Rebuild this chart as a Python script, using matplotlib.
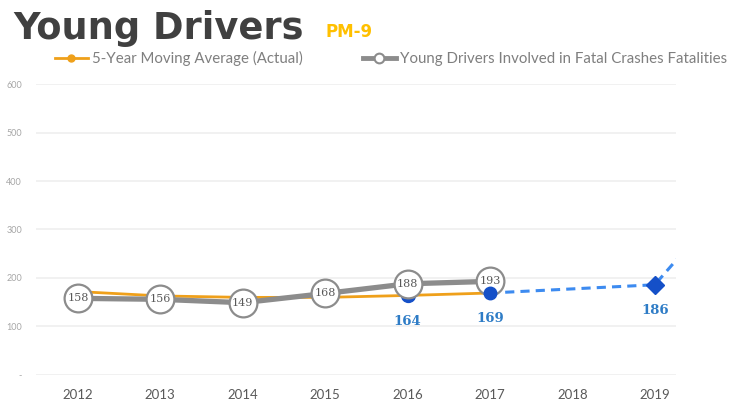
import matplotlib
matplotlib.use("Agg")
import matplotlib.pyplot as plt
from matplotlib.lines import Line2D

years = [2012, 2013, 2014, 2015, 2016, 2017, 2018, 2019]
avg_years = [2012, 2013, 2014, 2015, 2016, 2017]
avg_values = [172, 163, 160, 160, 164, 169]
fatal_years = [2012, 2013, 2014, 2015, 2016, 2017]
fatal_values = [158, 156, 149, 168, 188, 193]
proj_years = [2017, 2019, 2020]
proj_values = [169, 186, 381]
blue_dot_years = [2016, 2017]
blue_dot_values = [164, 169]
target_year = [2019]
target_value = [186]
yticks = [0, 100, 200, 300, 400, 500, 600]
ytick_labels = ["-", "100", "200", "300", "400", "500", "600"]

ORANGE = "#EFA01A"
GRAY = "#8C8C8C"
BLUE_LINE = "#3D8BF0"
BLUE_DOT = "#1550C8"
BLUE_TXT = "#2E7CC6"

fig = plt.figure(figsize=(7.31, 4.08), dpi=100)
ax = fig.add_axes([0.049, 0.081, 0.876, 0.713])
ax.set_xlim(2011.49, 2019.26)
ax.set_ylim(0, 600)

for s in ax.spines.values():
    s.set_visible(False)
ax.set_yticks(yticks)
ax.set_yticklabels(ytick_labels, fontsize=6.5, color="#A6A6A6", family="Lato")
ax.set_xticks(years)
ax.set_xticklabels([str(y) for y in years], fontsize=9.5, color="#595959", family="Lato")
ax.tick_params(axis="both", length=0)
ax.tick_params(axis="y", pad=10)
ax.tick_params(axis="x", pad=10)
ax.grid(axis="y", color="#EFEFEF", linewidth=1.2)
ax.set_axisbelow(True)

# projection
ax.plot(proj_years, proj_values, color=BLUE_LINE, lw=2.2, ls=(0, (3, 2)), zorder=2)
# orange moving average
ax.plot(avg_years, avg_values, color=ORANGE, lw=2.0, zorder=3)
# blue dot 2016 (under gray marker)
ax.plot(blue_dot_years[:1], blue_dot_values[:1], 'o', color=BLUE_DOT, ms=10, zorder=4)
# gray fatalities
ax.plot(fatal_years, fatal_values, color=GRAY, lw=3.8, marker='o', ms=20,
        mfc="white", mec=GRAY, mew=1.6, zorder=5)
for x, v in zip(fatal_years, fatal_values):
    ax.text(x, v, str(v), ha="center", va="center", fontsize=8, color="#595959",
            family="DejaVu Serif", zorder=6)
# blue dot 2017 over
ax.plot(blue_dot_years[1:], blue_dot_values[1:], 'o', color=BLUE_DOT, ms=9, zorder=7)
ax.plot(target_year, target_value, 'D', color=BLUE_DOT, ms=9, zorder=7)

for x, v in zip(blue_dot_years + target_year, blue_dot_values + target_value):
    ax.annotate(str(v), (x, v), xytext=(0, -14), textcoords="offset points",
                ha="center", va="top", fontsize=9.5, fontweight="bold",
                color=BLUE_TXT, family="DejaVu Serif", zorder=8)

# title
fig.text(0.018, 0.905, "Young Drivers", fontsize=26.5, fontweight="bold",
         color="#404040", family="DejaVu Sans", va="baseline")
fig.text(0.445, 0.91, "PM-9", fontsize=12, fontweight="bold",
         color="#FFC000", family="DejaVu Sans", va="baseline")

handles = [
    Line2D([], [], color=ORANGE, lw=2.0, marker='o', ms=5, mfc=ORANGE, mec=ORANGE),
    Line2D([], [], color=GRAY, lw=3.5, marker='o', ms=7, mfc="white", mec=GRAY, mew=1.5),
]
leg = fig.legend(handles, ["5-Year Moving Average (Actual)",
                           "Young Drivers Involved in Fatal Crashes Fatalities"],
                 loc="center", bbox_to_anchor=(0.535, 0.857), ncol=2, frameon=False,
                 handlelength=2.2, handletextpad=0.3, columnspacing=4.0,
                 prop={"family": "Lato", "size": 10.8})
for t in leg.get_texts():
    t.set_color("#7F7F7F")

fig.savefig("out.png", dpi=100)
